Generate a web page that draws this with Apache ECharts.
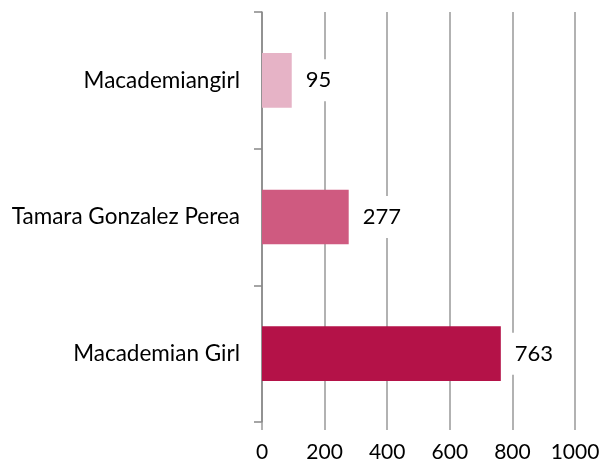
<!DOCTYPE html>
<html>
<head>
<meta charset="utf-8">
<script src="https://cdn.jsdelivr.net/npm/echarts@6/dist/echarts.min.js"></script>
<style>
    html, body { margin: 0; padding: 0; background: #fff; }
    #chart { width: 606px; height: 469px; }
</style>
</head>
<body>
<div id="chart"></div>
<script>
// bottom to top
var names = ['Macademian Girl', 'Tamara Gonzalez Perea', 'Macademiangirl'];
var counts = [763, 277, 95];
var barColors = ['#B41248', '#CF5A80', '#E6B3C6'];
var xTicks = [0, 200, 400, 600, 800, 1000];

function barChart(id) {
    var myChart = echarts.init(document.getElementById(id));

    var seriesData = [];
    for (var i = 0; i < counts.length; i++) {
        seriesData.push({ value: counts[i], itemStyle: { color: barColors[i] } });
    }

    var option = {
        animation: false,
        grid: {
            left: 262,
            right: 31,
            top: 12,
            bottom: 47
        },
        xAxis: {
            type: 'value',
            min: xTicks[0],
            max: xTicks[xTicks.length - 1],
            interval: 200,
            axisLine: { show: false },
            axisTick: { show: true, length: 8, lineStyle: { color: '#999', width: 1.5 } },
            splitLine: { show: true, lineStyle: { color: '#999', width: 1.5 } },
            axisLabel: {
                margin: 20,
                fontFamily: 'Lato',
                fontSize: 21,
                color: '#000',
                formatter: function (v) { return String(v); }
            }
        },
        yAxis: {
            type: 'category',
            data: names,
            axisLine: { show: true, lineStyle: { color: '#888', width: 1.5 } },
            axisTick: { show: true, length: 8, lineStyle: { color: '#888', width: 1.5 } },
            axisLabel: {
                margin: 22,
                fontFamily: 'Lato',
                fontSize: 22.5,
                color: '#000'
            }
        },
        series: [{
            type: 'bar',
            data: seriesData,
            barWidth: '40%',
            label: {
                show: true,
                position: 'right',
                distance: 6,
                fontFamily: 'Lato',
                fontSize: 22,
                color: '#000',
                backgroundColor: '#fff',
                padding: [10, 8]
            }
        }]
    };

    myChart.setOption(option);
}

barChart('chart');
</script>
</body>
</html>
